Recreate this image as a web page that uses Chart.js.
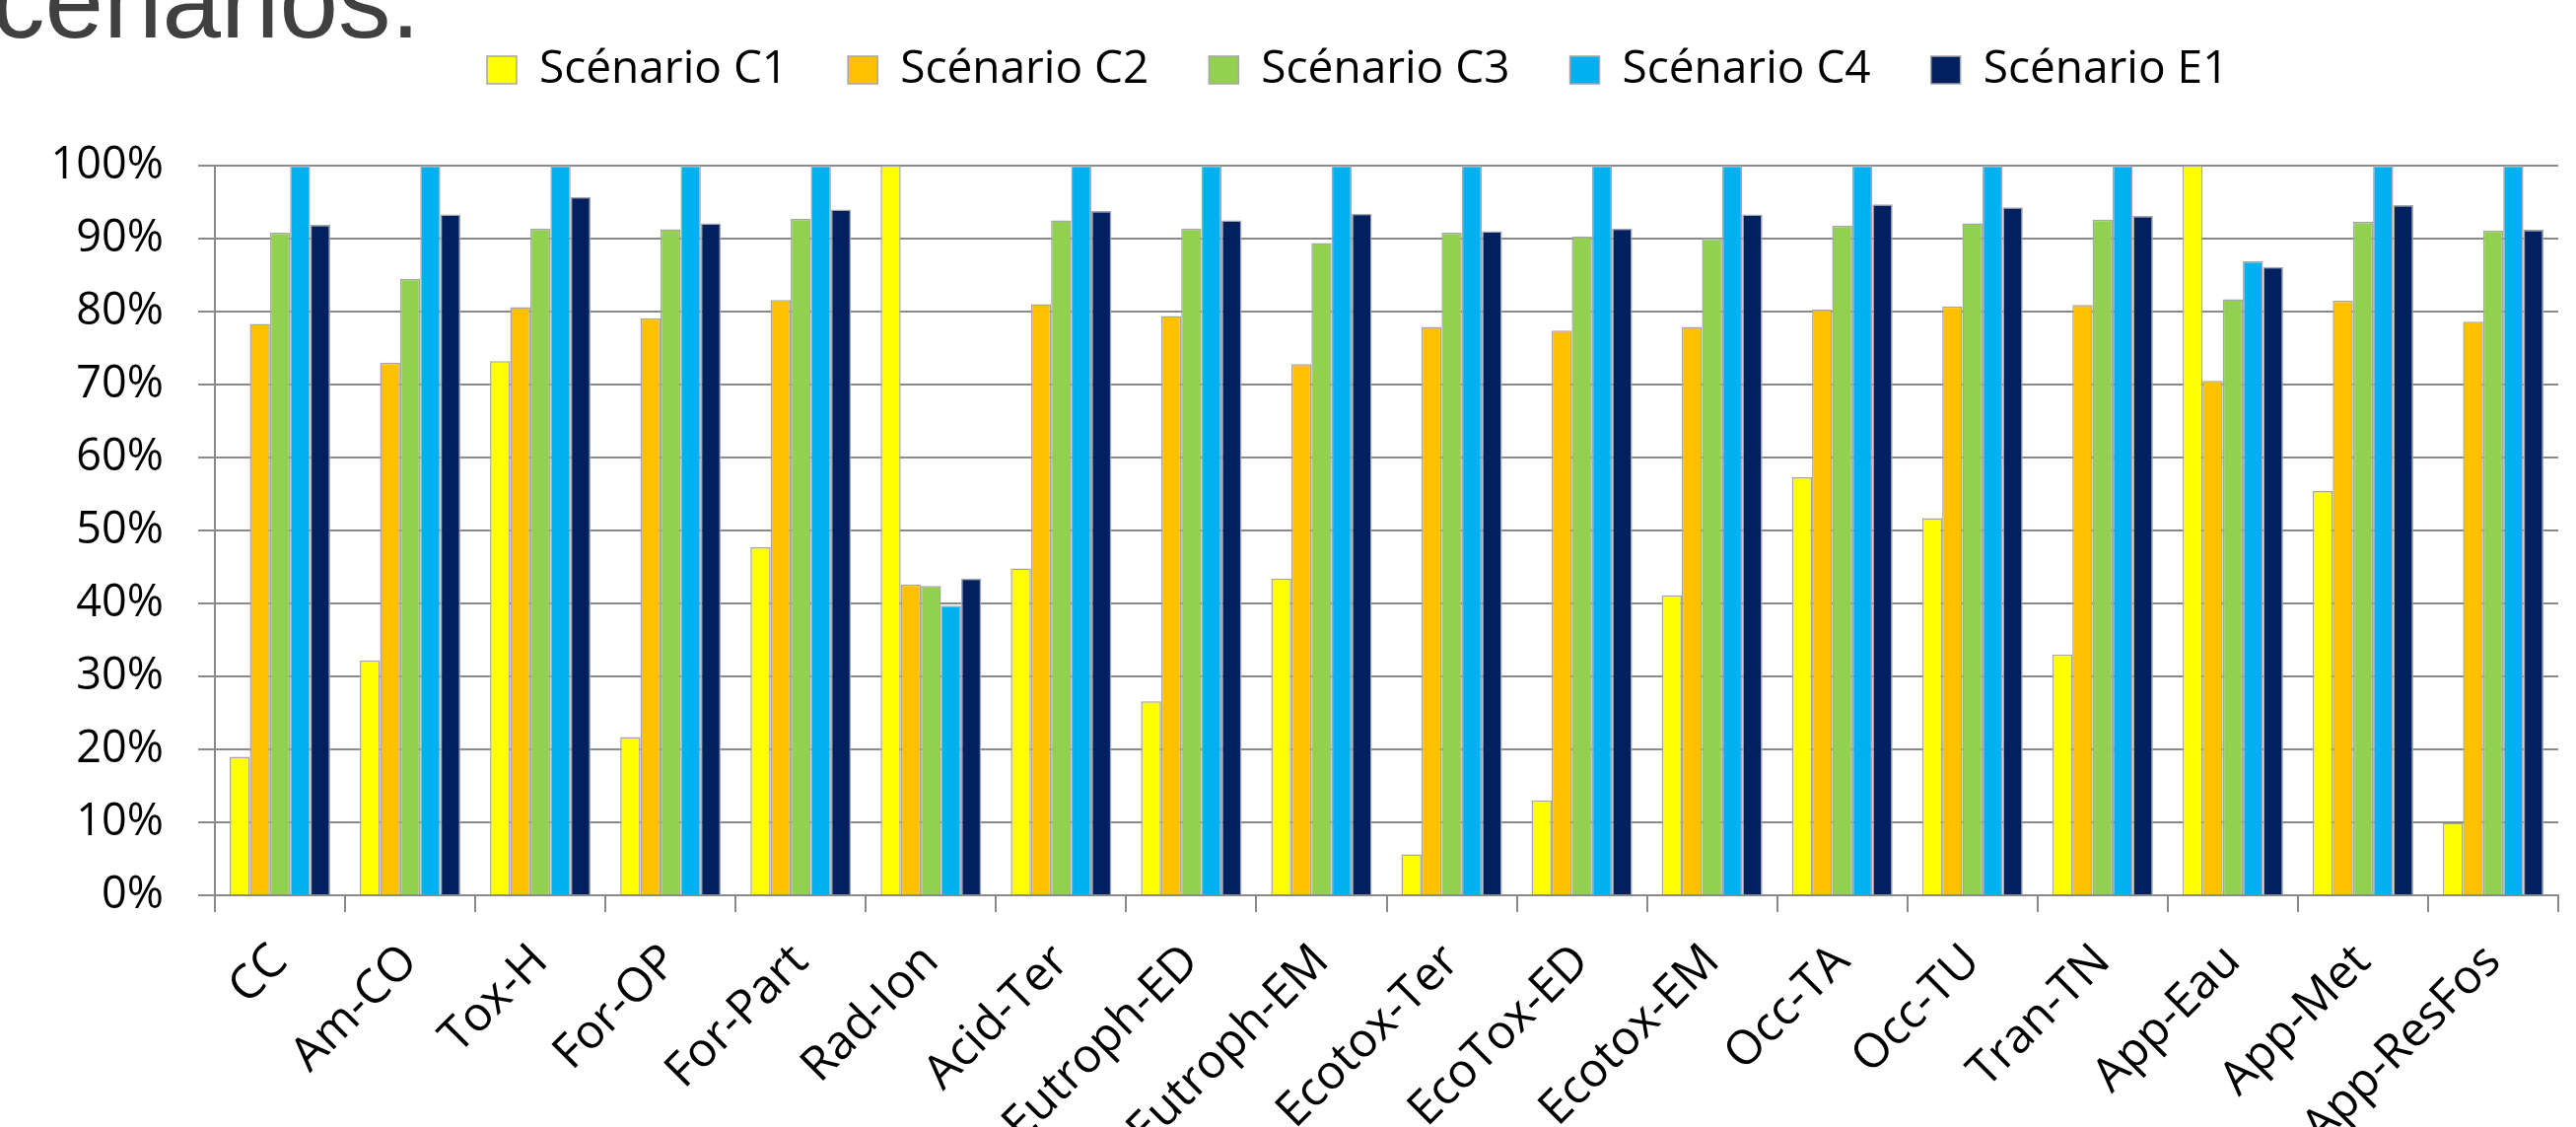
<!DOCTYPE html>
<html lang="fr">
<head>
<meta charset="utf-8">
<title>Scénarios</title>
<script src="https://cdn.jsdelivr.net/npm/chart.js@4.4.1/dist/chart.umd.min.js"></script>
<style>
  html, body { margin: 0; padding: 0; background: #ffffff; overflow: hidden; }
  canvas { display: block; }
</style>
</head>
<body>
<canvas id="chart" width="2613" height="1143"></canvas>
<script>
// Impact categories along the x axis
const categories = ['CC', 'Am-CO', 'Tox-H', 'For-OP', 'For-Part', 'Rad-Ion', 'Acid-Ter',
  'Eutroph-ED', 'Eutroph-EM', 'Ecotox-Ter', 'EcoTox-ED', 'Ecotox-EM', 'Occ-TA', 'Occ-TU',
  'Tran-TN', 'App-Eau', 'App-Met', 'App-ResFos'];

// Series names shown in the legend
const seriesNames = ['Scénario C1', 'Scénario C2', 'Scénario C3', 'Scénario C4', 'Scénario E1'];

// Relative impact per scenario (% of the highest scenario in each category)
const scenarioC1 = [19.0, 32.2, 73.2, 21.7, 47.7, 100, 44.8, 26.6, 43.4, 5.6, 13.0, 41.1, 57.3, 51.7, 33.0, 100, 55.4, 9.9];
const scenarioC2 = [78.3, 73.0, 80.6, 79.1, 81.6, 42.6, 81.0, 79.4, 72.8, 77.9, 77.4, 77.9, 80.3, 80.7, 80.9, 70.5, 81.5, 78.6];
const scenarioC3 = [90.8, 84.5, 91.4, 91.3, 92.7, 42.4, 92.5, 91.4, 89.4, 90.8, 90.3, 90.0, 91.8, 92.1, 92.6, 81.7, 92.3, 91.1];
const scenarioC4 = [100, 100, 100, 100, 100, 39.7, 100, 100, 100, 100, 100, 100, 100, 100, 100, 86.9, 100, 100];
const scenarioE1 = [91.9, 93.3, 95.7, 92.1, 94.0, 43.4, 93.8, 92.5, 93.4, 91.0, 91.4, 93.3, 94.7, 94.3, 93.1, 86.1, 94.6, 91.2];

// Y axis tick values (percent)
const yTickValues = [0, 10, 20, 30, 40, 50, 60, 70, 80, 90, 100];

// Heading fragment at the top left of the slide
const headingText = 'cenarios.';

const seriesValues = [scenarioC1, scenarioC2, scenarioC3, scenarioC4, scenarioE1];
const seriesColors = ['#ffff00', '#ffc000', '#92d050', '#00b0f0', '#002060'];

const FONT = '"Open Sans", "Noto Sans", Arial, sans-serif';
const GRID = '#8a8a8a';

// Legend band: fixed height above the plot, first item starting at a fixed x
const LEGEND_BAND = 168;
const LEGEND_ITEM_TOP = 48;
const LEGEND_START_X = 494;
const LEGEND_PAD = 61;

const legendPlacement = {
  id: 'legendPlacement',
  afterInit(chart) {
    const legend = chart.legend;
    const fit = legend.fit;
    legend.fit = function () {
      fit.call(this);
      this.height = LEGEND_BAND;
    };
  },
  afterLayout(chart) {
    const l = chart.legend;
    const pad = l.options.labels.padding;
    const start = (l.left + pad + l.right - l.lineWidths[0]) / 2;
    const dx = LEGEND_START_X - start;
    l.left += dx; l.right += dx;
    const dy = (LEGEND_ITEM_TOP - pad) - l.top;
    l.top += dy; l.bottom += dy;
  }
};

const slideHeading = {
  id: 'slideHeading',
  afterDraw(chart) {
    const ctx = chart.ctx;
    ctx.save();
    ctx.font = '107px "Liberation Sans", Arial, sans-serif';
    ctx.fillStyle = '#404040';
    ctx.textAlign = 'left';
    ctx.textBaseline = 'alphabetic';
    ctx.fillText(headingText, -8, 38);
    ctx.restore();
  }
};

new Chart(document.getElementById('chart'), {
  type: 'bar',
  data: {
    labels: categories,
    datasets: seriesNames.map((name, i) => ({
      label: name,
      data: seriesValues[i],
      backgroundColor: seriesColors[i],
      borderColor: '#a6a6a6',
      borderWidth: 1.5,
      categoryPercentage: 0.773,
      barPercentage: 1.0
    }))
  },
  options: {
    responsive: false,
    animation: false,
    devicePixelRatio: 1,
    layout: { padding: { left: 0, right: 18, top: 0, bottom: 0 } },
    plugins: {
      legend: {
        position: 'top',
        labels: {
          font: { family: FONT, size: 46 },
          color: '#000000',
          boxWidth: 30,
          boxHeight: 28,
          padding: LEGEND_PAD
        }
      },
      tooltip: { enabled: false }
    },
    scales: {
      x: {
        grid: {
          display: true,
          drawOnChartArea: false,
          drawTicks: true,
          tickLength: 17,
          color: GRID,
          lineWidth: 2,
          offset: true
        },
        border: { display: true, color: GRID, width: 2 },
        ticks: {
          font: { family: FONT, size: 48 },
          color: '#000000',
          minRotation: 45,
          maxRotation: 45,
          autoSkip: false,
          padding: 22
        },
        afterFit(scale) { scale.height = 235; }
      },
      y: {
        min: 0,
        max: 100,
        grid: { color: GRID, lineWidth: 2, tickLength: 17 },
        border: { display: true, color: GRID, width: 2 },
        ticks: {
          font: { family: FONT, size: 45 },
          color: '#000000',
          padding: 35,
          callback: v => v + '%'
        },
        afterBuildTicks(scale) { scale.ticks = yTickValues.map(v => ({ value: v })); },
        afterFit(scale) { scale.width = 218; }
      }
    }
  },
  plugins: [legendPlacement, slideHeading]
});
</script>
</body>
</html>
